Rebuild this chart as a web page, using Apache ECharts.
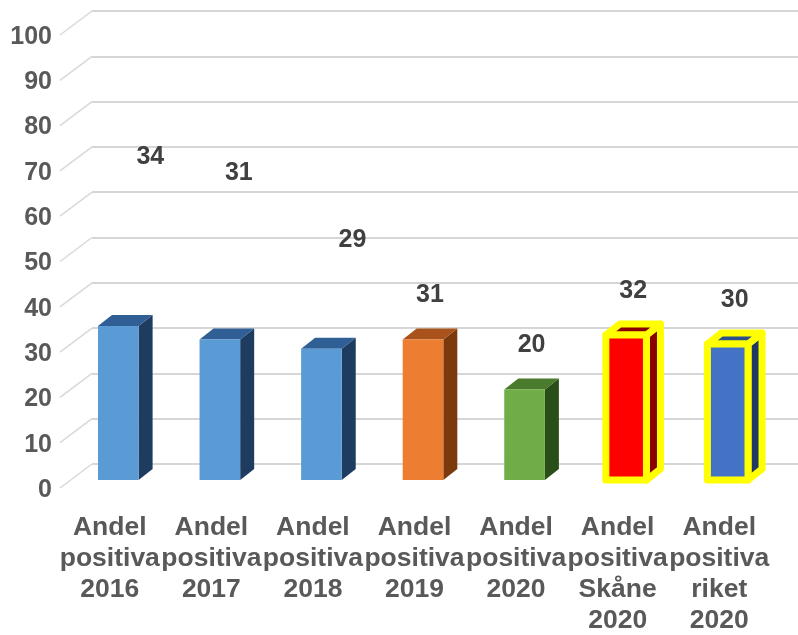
<!DOCTYPE html>
<html>
<head>
<meta charset="utf-8">
<script src="https://cdn.jsdelivr.net/npm/echarts@6/dist/echarts.min.js"></script>
<style>
  html, body { margin: 0; padding: 0; background: #fff; }
  #chart { width: 798px; height: 635px; }
</style>
</head>
<body>
<div id="chart"></div>
<script>
// data
var categories = [
  'Andel\npositiva\n2016',
  'Andel\npositiva\n2017',
  'Andel\npositiva\n2018',
  'Andel\npositiva\n2019',
  'Andel\npositiva\n2020',
  'Andel\npositiva\nSkåne\n2020',
  'Andel\npositiva\nriket\n2020'
]
var values = [34, 31, 29, 31, 20, 32, 30]
var yTicks = [0, 10, 20, 30, 40, 50, 60, 70, 80, 90, 100]

// styles per bar
var barColors = [
  { front: '#5b9bd5', side: '#1e3c60', top: '#2f5f94', border: null },
  { front: '#5b9bd5', side: '#1e3c60', top: '#2f5f94', border: null },
  { front: '#5b9bd5', side: '#1e3c60', top: '#2f5f94', border: null },
  { front: '#ed7d31', side: '#7a3a0e', top: '#a9521b', border: null },
  { front: '#70ad47', side: '#2a4e18', top: '#4a7a2c', border: null },
  { front: '#ff0000', side: '#880000', top: '#880000', border: '#ffff00' },
  { front: '#4472c4', side: '#1f3864', top: '#2c4f8c', border: '#ffff00' }
]
// labels were dragged by hand in the original
var labelShift = [[25, -125], [12, -122], [24, -65], [0, 0], [0, 0], [0, 0], [0, 0]]

var FONT = '"Liberation Sans", Arial, sans-serif'
var DEPTH_X = 14
var DEPTH_Y = 11

function renderGuide(params, api) {
  var p = api.coord([0, api.value(1)])
  var x = params.coordSys.x
  return {
    type: 'line',
    shape: { x1: x - 32, y1: p[1] + 24, x2: x, y2: p[1] },
    style: { stroke: '#d9d9d9', lineWidth: 1.5 }
  }
}

function renderBar(params, api) {
  var i = api.value(0)
  var v = api.value(1)
  var top = api.coord([i, v])
  var base = api.coord([i, 0])
  var w = api.size([1, 0])[0] * 0.4
  var cx = top[0] + 8.5
  var x0 = cx - w / 2
  var x1 = cx + w / 2
  var yt = top[1]
  var yb = base[1]
  var c = barColors[i]
  var edge = c.border ? { stroke: c.border, lineWidth: 7, lineJoin: 'round' } : {}
  return {
    type: 'group',
    children: [
      {
        type: 'polygon',
        shape: { points: [[x1, yb], [x1 + DEPTH_X, yb - DEPTH_Y], [x1 + DEPTH_X, yt - DEPTH_Y], [x1, yt]] },
        style: Object.assign({ fill: c.side }, edge)
      },
      {
        type: 'polygon',
        shape: { points: [[x0, yt], [x0 + DEPTH_X, yt - DEPTH_Y], [x1 + DEPTH_X, yt - DEPTH_Y], [x1, yt]] },
        style: Object.assign({ fill: c.top }, edge)
      },
      {
        type: 'rect',
        shape: { x: x0, y: yt, width: w, height: yb - yt },
        style: Object.assign({ fill: c.front }, edge)
      },
      {
        type: 'text',
        style: {
          text: String(v),
          x: cx + 7 + labelShift[i][0],
          y: yt - 44 + labelShift[i][1],
          align: 'center',
          verticalAlign: 'middle',
          fontSize: 25,
          fontWeight: 'bold',
          fontFamily: FONT,
          fill: '#404040'
        }
      }
    ]
  }
}

var chart = echarts.init(document.getElementById('chart'))
chart.setOption({
  animation: false,
  backgroundColor: '#fff',
  grid: [
    { left: 92, right: 0, top: 11, height: 453, outerBoundsMode: 'none' },   // back wall with gridlines
    { left: 59, right: 28, top: 27, height: 453, outerBoundsMode: 'none' },  // bars
    { left: 58, right: 0, top: 37, height: 453, outerBoundsMode: 'none' }    // value labels
  ],
  xAxis: [
    { gridIndex: 0, type: 'category', data: categories, show: false },
    {
      gridIndex: 1,
      type: 'category',
      data: categories,
      axisLine: { show: false },
      axisTick: { show: false },
      axisLabel: {
        interval: 0,
        margin: 32,
        color: '#595959',
        fontSize: 26.5,
        fontWeight: 'bold',
        fontFamily: FONT,
        lineHeight: 31
      }
    },
    { gridIndex: 2, type: 'category', data: categories, show: false }
  ],
  yAxis: [
    {
      gridIndex: 0, type: 'value', min: 0, max: 100, interval: 10,
      axisLine: { show: false }, axisTick: { show: false }, axisLabel: { show: false },
      splitLine: { lineStyle: { color: '#d6d6d6', width: 2 } }
    },
    {
      gridIndex: 1, type: 'value', min: 0, max: 100, interval: 10, show: false
    },
    {
      gridIndex: 2, type: 'value', min: 0, max: 100, interval: 10,
      axisLine: { show: false }, axisTick: { show: false },
      splitLine: { show: false },
      axisLabel: {
        margin: 6,
        color: '#595959',
        fontSize: 25,
        fontWeight: 'bold',
        fontFamily: FONT
      }
    }
  ],
  series: [
    {
      type: 'custom',
      xAxisIndex: 0,
      yAxisIndex: 0,
      renderItem: renderGuide,
      data: yTicks.map(function (t) { return [0, t] }),
      silent: true
    },
    {
      type: 'custom',
      xAxisIndex: 1,
      yAxisIndex: 1,
      encode: { x: 0, y: 1 },
      clip: false,
      renderItem: renderBar,
      data: values.map(function (v, i) { return [i, v] })
    }
  ]
})
</script>
</body>
</html>
